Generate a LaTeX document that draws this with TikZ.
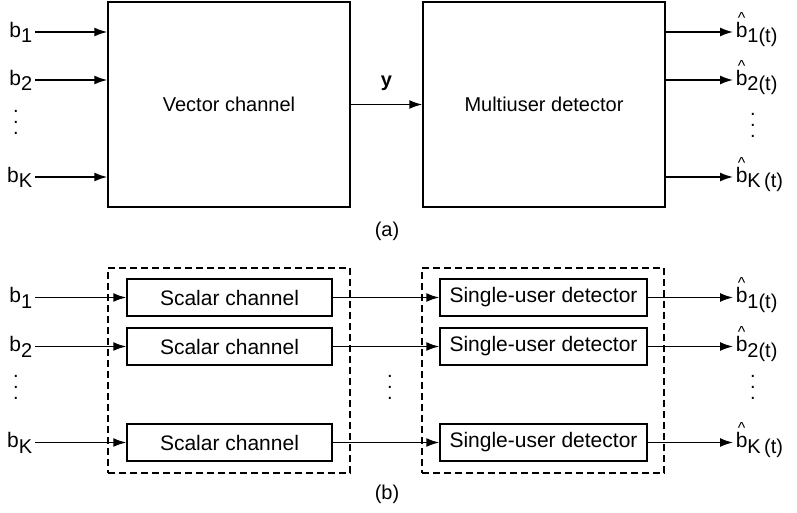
\documentclass[tikz,border=0pt]{standalone}
\usepackage{fontspec}
\setmainfont{Liberation Sans}
\usetikzlibrary{arrows.meta,positioning}

\newcommand{\bsub}[1]{b\raisebox{-0.5ex}{\fontsize{10}{12}\selectfont #1}}
\newcommand{\bhat}[1]{\ooalign{b\cr\hidewidth\raisebox{0.66em}{\footnotesize\textasciicircum}\hidewidth\cr}\raisebox{-0.5ex}{\fontsize{10}{12}\selectfont #1}}
\newcommand{\vdts}{\vbox{\baselineskip=5.5pt\lineskiplimit=-10pt\hbox{.}\hbox{.}\hbox{.}}}

\begin{document}
\begin{tikzpicture}[x=0.5pt, y=-0.5pt, font=\fontsize{10}{12}\selectfont, line width=0.75pt,
    >={Latex[length=6.5pt,width=4.5pt]},
    box/.style={draw, rectangle, inner sep=0pt, minimum width=102.5pt, minimum height=18.5pt, font=\fontsize{10.5}{12}\selectfont},
    bigbox/.style={draw, rectangle, inner sep=0pt, minimum width=121pt, minimum height=102.5pt},
    grp/.style={draw, dash pattern=on 3.5pt off 2pt, inner sep=0pt, minimum width=121pt, minimum height=102.5pt},
    lbl/.style={inner sep=1pt, font=\fontsize{10.5}{12}\selectfont}]
    \useasboundingbox (0,0) rectangle (797,513);

    % (a) joint model
    \node [bigbox] (vc) at (229,104.5) {Vector channel};
    \node [bigbox, right=35.75pt of vc] (mud) {Multiuser detector};
    \node [lbl, anchor=mid east] (a1) at (35,32) {\bsub{1}};
    \node [lbl, anchor=mid east] (a2) at (35,80) {\bsub{2}};
    \node [lbl, anchor=mid east] (aK) at (35,177) {\bsub{K}};
    \node (adots) at (16,122) {\vdts};
    \node [lbl, anchor=mid west] (ha1) at (733,32) {\bhat{1(t)}};
    \node [lbl, anchor=mid west] (ha2) at (733,80) {\bhat{2(t)}};
    \node [lbl, anchor=mid west] (haK) at (733,177) {\bhat{K\,(t)}};
    \node (hadots) at (753,125) {\vdts};
    \node (capa) at (387,231) {(a)};

    \draw [->] (a1.mid east) -- (a1.mid east -| vc.west);
    \draw [->] (a2.mid east) -- (a2.mid east -| vc.west);
    \draw [->] (aK.mid east) -- (aK.mid east -| vc.west);
    \draw [->] (vc.east) -- node [above=3pt, font=\bfseries] {y} (mud.west);
    \draw [->] (mud.east |- ha1.mid west) -- (ha1.mid west);
    \draw [->] (mud.east |- ha2.mid west) -- (ha2.mid west);
    \draw [->] (mud.east |- haK.mid west) -- (haK.mid west);

    % (b) single-user model
    \node [grp] (grp1) at (229,370.5) {};
    \node [grp, right=35.25pt of grp1] (grp2) {};
    \node [box] (sc1) at (229.5,297.5) {Scalar channel};
    \node [box] (sc2) at (229.5,346.5) {Scalar channel};
    \node [box] (scK) at (229.5,442.5) {Scalar channel};
    \node [box, minimum width=103.5pt, right=53.25pt of sc1] (sd1) {Single-user detector};
    \node [box, minimum width=103.5pt, right=53.25pt of sc2] (sd2) {Single-user detector};
    \node [box, minimum width=103.5pt, right=53.25pt of scK] (sdK) {Single-user detector};
    \node [lbl, anchor=mid east] (c1) at (35,297.5) {\bsub{1}};
    \node [lbl, anchor=mid east] (c2) at (35,346.5) {\bsub{2}};
    \node [lbl, anchor=mid east] (cK) at (35,442.5) {\bsub{K}};
    \node (cdots) at (16,387) {\vdts};
    \node (mdots) at (390,387) {\vdts};
    \node [lbl, anchor=mid west] (hc1) at (733,297.5) {\bhat{1(t)}};
    \node [lbl, anchor=mid west] (hc2) at (733,346.5) {\bhat{2(t)}};
    \node [lbl, anchor=mid west] (hcK) at (733,442.5) {\bhat{K\,(t)}};
    \node (hcdots) at (753,387) {\vdts};
    \node (capb) at (387,494) {(b)};

    \draw [->] (c1.mid east) -- (c1.mid east -| sc1.west);
    \draw [->] (c2.mid east) -- (c2.mid east -| sc2.west);
    \draw [->] (cK.mid east) -- (cK.mid east -| scK.west);
    \draw [->] (sc1.east) -- (sd1.west);
    \draw [->] (sc2.east) -- (sd2.west);
    \draw [->] (scK.east) -- (sdK.west);
    \draw [->] (sd1.east) -- (sd1.east -| hc1.mid west);
    \draw [->] (sd2.east) -- (sd2.east -| hc2.mid west);
    \draw [->] (sdK.east) -- (sdK.east -| hcK.mid west);
\end{tikzpicture}
\end{document}
